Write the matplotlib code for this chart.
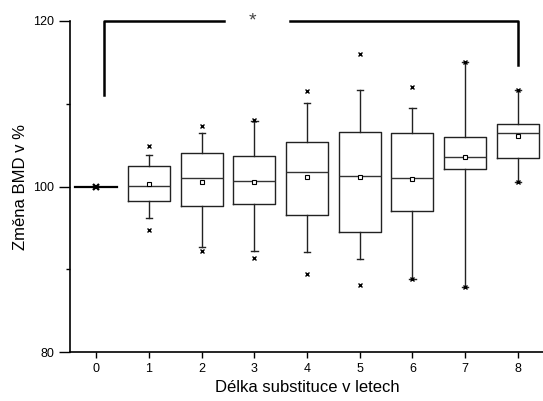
import matplotlib.pyplot as plt
import numpy as np

plt.rcParams['font.family'] = ['Liberation Sans', 'DejaVu Sans']

# values (BMD change in %)
years = [0, 1, 2, 3, 4, 5, 6, 7, 8]
q1 = [100.0, 98.3, 97.6, 97.9, 96.6, 94.5, 97.1, 102.1, 103.5]
median = [100.0, 100.1, 101.0, 100.7, 101.7, 101.3, 101.0, 103.6, 106.5]
q3 = [100.0, 102.5, 104.1, 103.7, 105.4, 106.6, 106.5, 106.0, 107.6]
mean = [100.0, 100.3, 100.5, 100.6, 101.1, 101.2, 100.9, 103.6, 106.1]
whis_lo = [100.0, 96.2, 92.7, 92.2, 92.1, 91.3, 88.8, 87.9, 100.5]
whis_hi = [100.0, 103.8, 106.5, 107.9, 110.1, 111.7, 109.5, 115.0, 111.6]
out_lo = [100.0, 94.8, 92.2, 91.4, 89.4, 88.1, 88.8, 87.9, 100.5]
out_hi = [100.0, 104.9, 107.3, 108.0, 111.5, 116.0, 112.0, 115.0, 111.6]

# significance bracket: between group 0 and 8
bracket_x = [0.15, 8.0]
bracket_y = [111.1, 120.0, 114.6]

stats = []
for i in range(len(years)):
	stats.append(dict(med=median[i], q1=q1[i], q3=q3[i], mean=mean[i],
		whislo=whis_lo[i], whishi=whis_hi[i], fliers=[out_lo[i], out_hi[i]]))

fig = plt.figure(figsize=(5.43, 4.01), dpi=100)
ax = fig.add_axes([0.129, 0.1214, 0.873, 0.8269])

ax.bxp(stats[1:], positions=years[1:], widths=0.8, showmeans=True,
	capwidths=0.12, manage_ticks=False,
	boxprops=dict(color='#222222', linewidth=1.0),
	medianprops=dict(color='#333333', linewidth=1.0),
	whiskerprops=dict(color='#222222', linewidth=1.0),
	capprops=dict(color='#222222', linewidth=1.0),
	meanprops=dict(marker='s', markerfacecolor='white', markeredgecolor='black', markersize=3.5, markeredgewidth=0.8),
	flierprops=dict(marker='x', markeredgecolor='black', markersize=3.5, markeredgewidth=1.0))

# group 0: all values equal to 100 -> flat line
ax.plot([years[0] - 0.4, years[0] + 0.4], [median[0], median[0]], color='black', lw=1.6)
ax.plot(years[0], out_hi[0], marker='x', color='black', ms=4.5, mew=1.6)

# bracket with asterisk
x0, x1 = bracket_x
ax.plot([x0, x0, 2.43], [bracket_y[0], bracket_y[1], bracket_y[1]], color='black', lw=1.8, clip_on=False)
ax.plot([3.68, x1, x1], [bracket_y[1], bracket_y[1], bracket_y[2]], color='black', lw=1.8, clip_on=False)
ax.text(2.96, bracket_y[1], '*', ha='center', va='center', fontsize=14, color='#444444')

ax.set_xlim(-0.5, 8.5)
ax.set_ylim(80, 120)
ax.set_xticks(years)
ax.set_xticklabels([str(y) for y in years])
ax.set_yticks([80, 100, 120])
ax.set_yticks([90, 110], minor=True)
ax.tick_params(axis='y', which='major', length=8, width=1, labelsize=9)
ax.tick_params(axis='y', which='minor', length=3, width=1)
ax.tick_params(axis='x', length=4, width=1, labelsize=9)

ax.spines['top'].set_visible(False)
ax.spines['right'].set_visible(False)
ax.spines['left'].set_linewidth(1.2)
ax.spines['bottom'].set_linewidth(1.2)

ax.set_xlabel('Délka substituce v letech', fontsize=12)
ax.set_ylabel('Změna BMD v %', fontsize=12)

fig.savefig('out.png', dpi=100)
